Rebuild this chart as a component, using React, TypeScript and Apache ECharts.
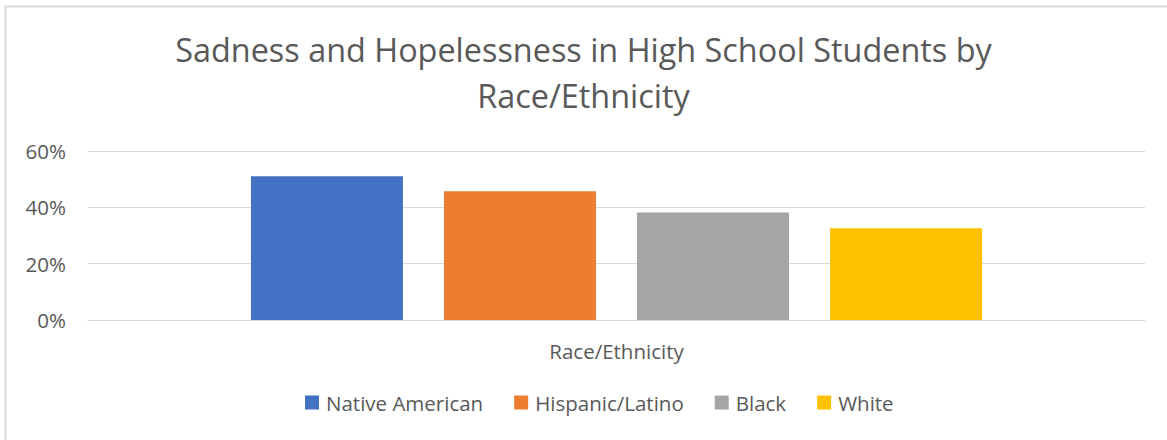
import React, { useEffect, useRef } from "react";
import * as echarts from "echarts";

// Share of high school students reporting persistent sadness or hopelessness
const categories = ["Race/Ethnicity"];
const groups = ["Native American", "Hispanic/Latino", "Black", "White"];
const values = [0.51, 0.457, 0.382, 0.326];
const colors = ["#4472C4", "#ED7D31", "#A5A5A5", "#FFC000"];
const yTicks = { min: 0, max: 0.6, interval: 0.2 };

const FONT = "'Open Sans', sans-serif";
const TEXT = "#595959";

export default function App() {
  const ref = useRef<HTMLDivElement>(null);

  useEffect(() => {
    document.body.style.margin = "0";
    if (!ref.current) return;
    const chart = echarts.init(ref.current, null, { renderer: "svg" });

    chart.setOption({
      animation: false,
      backgroundColor: "#ffffff",
      textStyle: { fontFamily: FONT, color: TEXT },
      title: {
        text: "Sadness and Hopelessness in High School Students by\nRace/Ethnicity",
        left: "center",
        top: 21,
        textStyle: {
          fontFamily: FONT,
          fontSize: 32.4,
          fontWeight: "normal",
          color: TEXT,
          lineHeight: 46,
        },
      },
      graphic: [
        {
          type: "rect",
          shape: { x: 5.5, y: 6.5, width: 1200, height: 500 },
          style: { fill: "none", stroke: "#d9d9d9", lineWidth: 2 },
          silent: true,
        },
      ],
      legend: {
        data: groups,
        top: 387,
        left: 300,
        icon: "rect",
        itemWidth: 14,
        itemHeight: 14,
        itemGap: 31,
        textStyle: { fontFamily: FONT, fontSize: 20.5, color: TEXT, padding: [0, 0, 0, 2] },
      },
      grid: { left: 88, right: 22, top: 151, bottom: 120 },
      xAxis: {
        type: "category",
        data: categories,
        axisLine: { lineStyle: { color: "#d9d9d9", width: 1 } },
        axisTick: { show: false },
        axisLabel: { fontFamily: FONT, fontSize: 20.5, color: TEXT, margin: 20 },
      },
      yAxis: {
        type: "value",
        min: yTicks.min,
        max: yTicks.max,
        interval: yTicks.interval,
        axisLine: { show: false },
        axisTick: { show: false },
        axisLabel: {
          fontFamily: FONT,
          fontSize: 20.5,
          color: TEXT,
          margin: 22,
          formatter: (v: number) => `${Math.round(v * 100)}%`,
        },
        splitLine: { lineStyle: { color: "#d9d9d9", width: 1 } },
      },
      series: groups.map((name, i) => ({
        name,
        type: "bar",
        data: [values[i]],
        barWidth: 152,
        barGap: "27%",
        itemStyle: { color: colors[i] },
      })),
    });

    return () => chart.dispose();
  }, []);

  return <div ref={ref} style={{ width: 1167, height: 440 }} />;
}
